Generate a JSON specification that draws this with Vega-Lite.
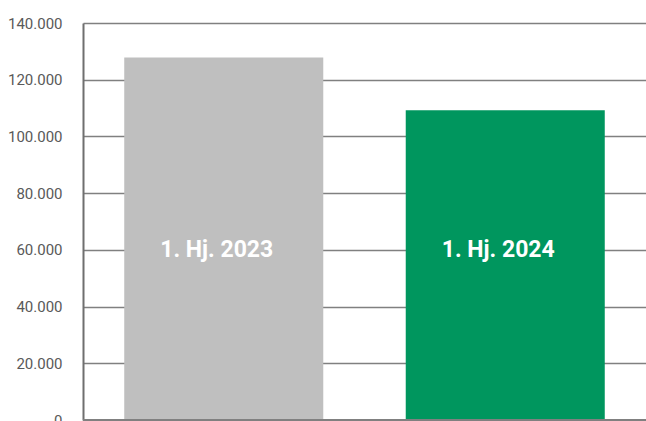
{
  "$schema": "https://vega.github.io/schema/vega-lite/v6.json",
  "width": 563,
  "height": 397,
  "autosize": "none",
  "padding": {"left": 83, "top": 23, "right": 0, "bottom": 1},
  "background": "white",
  "config": {
    "view": {"stroke": null},
    "locale": {"number": {"decimal": ",", "thousands": ".", "grouping": [3], "currency": ["", " €"]}}
  },
  "data": {"values": [
    {"period": "1. Hj. 2023", "value": 127800},
    {"period": "1. Hj. 2024", "value": 109200}
  ]},
  "encoding": {
    "x": {"field": "period", "type": "nominal", "sort": null,
      "scale": {"paddingInner": 0.293, "paddingOuter": 0.1465},
      "axis": null}
  },
  "layer": [
    {
      "mark": {"type": "bar"},
      "encoding": {
        "y": {"field": "value", "type": "quantitative",
          "scale": {"domain": [0, 140000], "nice": false},
          "axis": {"title": null, "values": [0, 20000, 40000, 60000, 80000, 100000, 120000, 140000],
            "format": ",.0f", "ticks": false, "labelPadding": 21,
            "labelFont": "Roboto", "labelFontSize": 15, "labelColor": "#595959",
            "domain": true, "domainColor": "#6f6f6f", "domainWidth": 2,
            "grid": true, "gridColor": "#808080", "gridWidth": 1.5}},
        "color": {"field": "period", "type": "nominal",
          "scale": {"domain": ["1. Hj. 2023", "1. Hj. 2024"], "range": ["#bfbfbf", "#00965e"]},
          "legend": null}
      }
    },
    {
      "mark": {"type": "rule", "color": "#808080", "strokeWidth": 2},
      "encoding": {"y": {"datum": 0, "type": "quantitative"}, "x": null}
    },
    {
      "mark": {"type": "text", "color": "white", "font": "Roboto", "fontWeight": "bold", "fontSize": 23, "baseline": "middle", "dx": -7},
      "encoding": {
        "y": {"datum": 60000, "type": "quantitative"},
        "text": {"field": "period"}
      }
    }
  ]
}
